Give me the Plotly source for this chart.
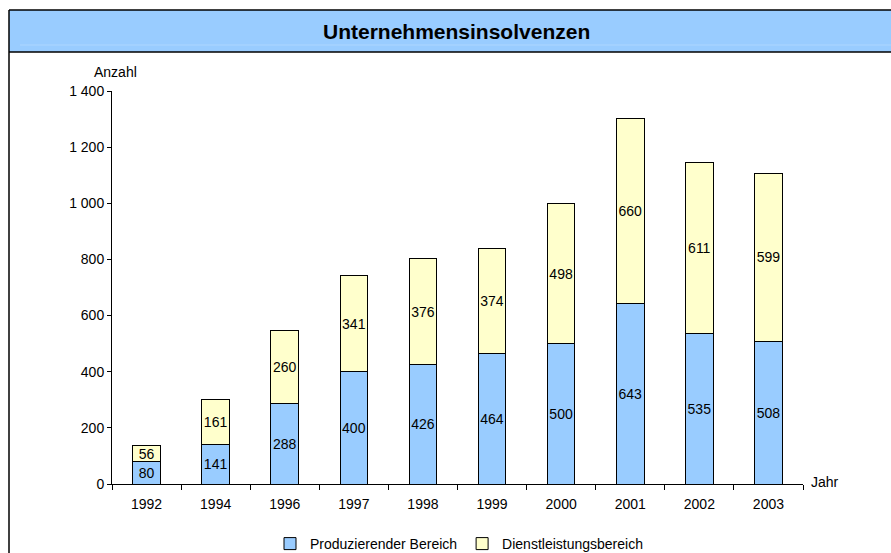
import plotly.graph_objects as go

years = ["1992", "1994", "1996", "1997", "1998", "1999", "2000", "2001", "2002", "2003"]
produzierend = [80, 141, 288, 400, 426, 464, 500, 643, 535, 508]
dienstleistung = [56, 161, 260, 341, 376, 374, 498, 660, 611, 599]
y_ticks = [0, 200, 400, 600, 800, 1000, 1200, 1400]

W, H = 891, 553
# target plot area in page pixels: x 112..803, y 91..484
PL, PR, PT, PB = 112, 803, 91, 484
PW, PH = PR - PL, PB - PT
ML, MT = PL, PT
MR = W - ML - PW
MB = H - MT - PH

def px(x):
    return (x - PL) / PW

def py(y):
    return (PB - y) / PH

FONT = "Liberation Sans, Arial, sans-serif"

fig = go.Figure()
fig.add_trace(go.Bar(
    x=years, y=produzierend, name="Produzierender Bereich",
    marker=dict(color="#99CCFF", line=dict(color="black", width=1)),
    text=produzierend, textposition="inside", insidetextanchor="middle",
    textangle=0, constraintext="none",
    textfont=dict(color="black", size=14, family=FONT),
))
fig.add_trace(go.Bar(
    x=years, y=dienstleistung, name="Dienstleistungsbereich",
    marker=dict(color="#FFFFCC", line=dict(color="black", width=1)),
    text=dienstleistung, textposition="inside", insidetextanchor="middle",
    textangle=0, constraintext="none",
    textfont=dict(color="black", size=14, family=FONT),
))

shapes = [
    dict(type="rect", xref="paper", yref="paper", x0=px(9), x1=px(W + 20), y0=py(10), y1=py(52),
         fillcolor="#99CCFF", line=dict(width=0), layer="below"),
    dict(type="line", xref="paper", yref="paper", x0=px(20), x1=px(W + 20), y0=py(45), y1=py(45),
         line=dict(color="#ADD6FF", width=1)),
    dict(type="line", xref="paper", yref="paper", x0=px(9), x1=px(W + 20), y0=py(52), y1=py(52),
         line=dict(color="black", width=1.5)),
    dict(type="line", xref="paper", yref="paper", x0=px(9), x1=px(W + 20), y0=py(10), y1=py(10),
         line=dict(color="black", width=1.5)),
    dict(type="line", xref="paper", yref="paper", x0=px(9), x1=px(9), y0=py(10), y1=py(H + 20),
         line=dict(color="black", width=1.5)),
]

annotations = [
    dict(text="<b>Unternehmensinsolvenzen</b>", xref="paper", yref="paper", x=px(456), y=py(32),
         xanchor="center", yanchor="middle", showarrow=False, font=dict(size=21, family=FONT, color="black")),
    dict(text="Anzahl", xref="paper", yref="paper", x=px(92), y=py(72),
         xanchor="left", yanchor="middle", showarrow=False, font=dict(size=14, family=FONT, color="black")),
    dict(text="Jahr", xref="paper", yref="paper", x=px(809), y=py(482),
         xanchor="left", yanchor="middle", showarrow=False, font=dict(size=14, family=FONT, color="black")),
]

fig.update_layout(
    width=W, height=H,
    margin=dict(l=ML, r=MR, t=MT, b=MB, autoexpand=False),
    barmode="stack", bargap=0.6,
    paper_bgcolor="white", plot_bgcolor="white",
    font=dict(family=FONT, size=14, color="black"),
    separators=", ",
    showlegend=True,
    legend=dict(orientation="h", x=px(459), xanchor="center", y=py(544), yanchor="middle",
                font=dict(size=14, family=FONT), traceorder="normal", itemwidth=30,
                bgcolor="rgba(0,0,0,0)"),
    shapes=shapes, annotations=annotations,
)
fig.update_xaxes(
    showline=True, linecolor="black", linewidth=1, showgrid=False,
    ticks="outside", ticklen=5, tickcolor="black", tickson="boundaries",
    tickfont=dict(size=14, family=FONT), ticklabelstandoff=7,
)
fig.update_yaxes(
    range=[0, 1400], tickvals=y_ticks, tickformat=",d",
    showline=True, linecolor="black", linewidth=1, showgrid=False,
    ticks="outside", ticklen=4, tickcolor="black", zeroline=False,
    tickfont=dict(size=14, family=FONT),
)

fig.write_html(
    "out.html",
    config={"displayModeBar": False},
    post_script="document.body.style.margin='0';document.body.style.overflow='hidden';",
)
